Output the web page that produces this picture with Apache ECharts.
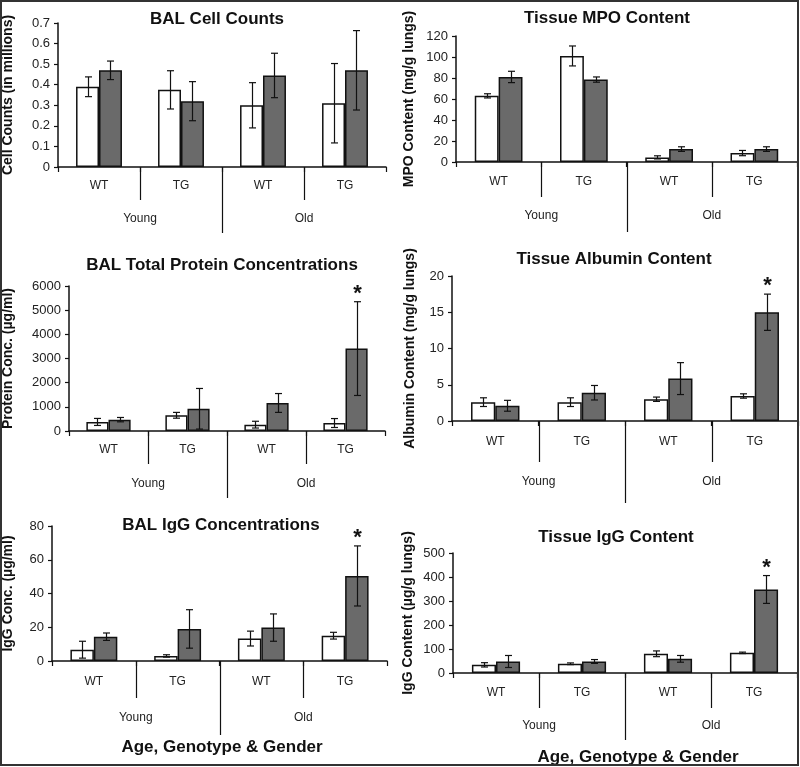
<!DOCTYPE html>
<html><head><meta charset="utf-8">
<script src="https://cdn.jsdelivr.net/npm/echarts@6/dist/echarts.min.js"></script>
<style>html,body{margin:0;padding:0;background:#fff}#c{width:800px;height:767px}</style>
</head><body><div id="c"></div>
<script>
// ---------- data ----------
const categories = ['WT', 'TG', 'WT', 'TG'];
const ageGroups = ['Young', 'Old'];
const xAxisTitle = 'Age, Genotype & Gender';

const cellTitle = 'BAL Cell Counts';
const cellYName = 'Cell Counts (in millions)';
const cellScale = [0, 0.7, 0.1];
const cellWhite = [0.39, 0.375, 0.30, 0.31];
const cellWhiteErr = [0.048, 0.093, 0.11, 0.193];
const cellGray = [0.47, 0.32, 0.445, 0.47];
const cellGrayErr = [0.045, 0.095, 0.108, 0.193];
const cellStars = ['', '', '', ''];

const mpoTitle = 'Tissue MPO Content';
const mpoYName = 'MPO Content (mg/g lungs)';
const mpoScale = [0, 120, 20];
const mpoWhite = [63, 101, 4.4, 8.5];
const mpoWhiteErr = [2, 9.5, 1.5, 2.5];
const mpoGray = [81, 78.5, 12.3, 12.3];
const mpoGrayErr = [5.4, 2.5, 2.2, 2.2];
const mpoStars = ['', '', '', ''];

const proteinTitle = 'BAL Total Protein Concentrations';
const proteinYName = 'Protein Conc. (µg/ml)';
const proteinScale = [0, 6000, 1000];
const proteinWhite = [375, 650, 263, 330];
const proteinWhiteErr = [145, 120, 140, 185];
const proteinGray = [470, 920, 1160, 3410];
const proteinGrayErr = [90, 840, 390, 1940];
const proteinStars = ['', '', '', '*'];

const albuminTitle = 'Tissue Albumin Content';
const albuminYName = 'Albumin Content (mg/g lungs)';
const albuminScale = [0, 20, 5];
const albuminWhite = [2.6, 2.6, 3.0, 3.45];
const albuminWhiteErr = [0.6, 0.6, 0.3, 0.3];
const albuminGray = [2.1, 3.9, 5.85, 15.0];
const albuminGrayErr = [0.75, 1.0, 2.2, 2.5];
const albuminStars = ['', '', '', '*'];

const balIgGTitle = 'BAL IgG Concentrations';
const balIgGYName = 'IgG Conc. (µg/ml)';
const balIgGScale = [0, 80, 20];
const balIgGWhite = [6.7, 3.0, 13.3, 15];
const balIgGWhiteErr = [5, 0.7, 4.4, 2];
const balIgGGray = [14.4, 19, 19.8, 50.4];
const balIgGGrayErr = [2.2, 11.4, 8.1, 17.8];
const balIgGStars = ['', '', '', '*'];

const tissueIgGTitle = 'Tissue IgG Content';
const tissueIgGYName = 'IgG Content (µg/g lungs)';
const tissueIgGScale = [0, 500, 100];
const tissueIgGWhite = [34, 38.5, 80, 84];
const tissueIgGWhiteErr = [9, 3.5, 12, 3];
const tissueIgGGray = [48, 48, 59, 348];
const tissueIgGGrayErr = [25, 8, 14, 58];
const tissueIgGStars = ['', '', '', '*'];

// ---------- layout / style ----------
const FONT = '"Liberation Sans", Arial, sans-serif';
const GAP = 0.44;
const panels = [
  {title: cellTitle, yName: cellYName, scale: cellScale, white: cellWhite, whiteErr: cellWhiteErr, gray: cellGray, grayErr: cellGrayErr, stars: cellStars,
   grid: {left: 58, top: 23, width: 328, height: 144}, tx: 217, ty: 10.5, nameGap: 43, tickLen: 33, groupLen: 66, lm: 13, gm: 46},
  {title: mpoTitle, yName: mpoYName, scale: mpoScale, white: mpoWhite, whiteErr: mpoWhiteErr, gray: mpoGray, grayErr: mpoGrayErr, stars: mpoStars,
   grid: {left: 456, top: 36, width: 341, height: 126}, tx: 607, ty: 10, nameGap: 40, tickLen: 35, groupLen: 70, lm: 14, gm: 48},
  {title: proteinTitle, yName: proteinYName, scale: proteinScale, white: proteinWhite, whiteErr: proteinWhiteErr, gray: proteinGray, grayErr: proteinGrayErr, stars: proteinStars,
   grid: {left: 67, top: 286, width: 318, height: 145}, tx: 222, ty: 257, nameGap: 54, tickLen: 33, groupLen: 67, lm: 13, gm: 47},
  {title: albuminTitle, yName: albuminYName, scale: albuminScale, white: albuminWhite, whiteErr: albuminWhiteErr, gray: albuminGray, grayErr: albuminGrayErr, stars: albuminStars,
   grid: {left: 452, top: 276, width: 346, height: 145}, tx: 614, ty: 250.5, nameGap: 35, tickLen: 41, groupLen: 82, lm: 15, gm: 55},
  {title: balIgGTitle, yName: balIgGYName, scale: balIgGScale, white: balIgGWhite, whiteErr: balIgGWhiteErr, gray: balIgGGray, grayErr: balIgGGrayErr, stars: balIgGStars,
   grid: {left: 52, top: 526, width: 335, height: 135}, tx: 221, ty: 516.5, nameGap: 37, tickLen: 37, groupLen: 74, lm: 15, gm: 51},
  {title: tissueIgGTitle, yName: tissueIgGYName, scale: tissueIgGScale, white: tissueIgGWhite, whiteErr: tissueIgGWhiteErr, gray: tissueIgGGray, grayErr: tissueIgGGrayErr, stars: tissueIgGStars,
   grid: {left: 453, top: 553, width: 344, height: 120}, tx: 616, ty: 528.5, nameGap: 38, tickLen: 35, groupLen: 67, lm: 14, gm: 47}
];
const xTitles = [{x: 222, y: 738.5}, {x: 638, y: 748.5}];

function errRender(sign, stars) {
  return function (params, api) {
    const i = api.value(0), m = api.value(1), e = api.value(2);
    const c = api.coord([i, m]);
    const band = api.size([1, 0])[0];
    const x = Math.round(c[0] + sign * band * (1 - GAP) / 4) + 0.5;
    const yt = api.coord([i, m + e])[1];
    const yb = api.coord([i, m - e])[1];
    const st = {stroke: '#111', lineWidth: 1.2};
    const ch = [
      {type: 'line', shape: {x1: x, y1: yt, x2: x, y2: yb}, style: st},
      {type: 'line', shape: {x1: x - 3.5, y1: yt, x2: x + 3.5, y2: yt}, style: st},
      {type: 'line', shape: {x1: x - 3.5, y1: yb, x2: x + 3.5, y2: yb}, style: st}
    ];
    const s = stars[params.dataIndex];
    if (s) {
      ch.push({type: 'text', style: {text: s, x: x, y: yt - 8, align: 'center', verticalAlign: 'middle',
        font: 'bold 22px ' + FONT, fill: '#111'}});
    }
    return {type: 'group', children: ch};
  };
}
function sepRender(p) {
  return function (params, api) {
    const i = api.value(0);
    const c = api.coord([i, 0]);
    const band = api.size([1, 0])[0];
    const x = Math.round(c[0] - band / 2) + 0.5;
    const len = i === 2 ? p.groupLen : p.tickLen;
    return {type: 'line', shape: {x1: x, y1: c[1], x2: x, y2: c[1] + len}, style: {stroke: '#111', lineWidth: 1.2}};
  };
}
function plainNumber(v) { return String(+(+v).toFixed(6)); }

const option = {
  animation: false,
  backgroundColor: '#fff',
  textStyle: {fontFamily: FONT},
  title: [],
  grid: [],
  xAxis: [],
  yAxis: [],
  series: [],
  graphic: [{type: 'rect', shape: {x: 1, y: 1, width: 797, height: 764}, style: {fill: 'none', stroke: '#333', lineWidth: 2}, z: 100}]
};

panels.forEach(function (p, k) {
  option.title.push({text: p.title, left: p.tx, top: p.ty, textAlign: 'center', padding: 0,
    textStyle: {fontFamily: FONT, fontWeight: 'bold', fontSize: 17, color: '#111'}});
  option.grid.push(Object.assign({containLabel: false}, p.grid));
  option.xAxis.push({type: 'category', gridIndex: k, data: categories, position: 'bottom',
    axisLine: {lineStyle: {color: '#111', width: 1.5}},
    axisTick: {show: true, alignWithLabel: false, length: 5, lineStyle: {color: '#111', width: 1.2}},
    axisLabel: {interval: 0, margin: p.lm, fontSize: 12, color: '#222', fontFamily: FONT},
    splitLine: {show: false}});
  option.xAxis.push({type: 'category', gridIndex: k, data: ageGroups, position: 'bottom',
    axisLine: {show: false}, axisTick: {show: false},
    axisLabel: {interval: 0, margin: p.gm, fontSize: 12, color: '#222', fontFamily: FONT},
    splitLine: {show: false}});
  option.yAxis.push({type: 'value', gridIndex: k, min: p.scale[0], max: p.scale[1], interval: p.scale[2],
    name: p.yName, nameLocation: 'middle', nameGap: p.nameGap, nameRotate: 90,
    nameTextStyle: {fontFamily: FONT, fontWeight: 'bold', fontSize: 14, color: '#111'},
    axisLine: {show: true, lineStyle: {color: '#111', width: 1.5}},
    axisTick: {show: true, length: 4, lineStyle: {color: '#111', width: 1.2}},
    axisLabel: {margin: 8, fontSize: 13, color: '#222', fontFamily: FONT, formatter: plainNumber},
    splitLine: {show: false}});
  const xi = 2 * k;
  option.series.push({type: 'bar', name: 'White', xAxisIndex: xi, yAxisIndex: k, data: p.white,
    barGap: '0%', barCategoryGap: (GAP * 100) + '%',
    itemStyle: {color: '#ffffff', borderColor: '#111', borderWidth: 1.5}, z: 2, silent: true});
  option.series.push({type: 'bar', name: 'Gray', xAxisIndex: xi, yAxisIndex: k, data: p.gray,
    barGap: '0%', barCategoryGap: (GAP * 100) + '%',
    itemStyle: {color: '#6a6a6a', borderColor: '#111', borderWidth: 1.5}, z: 2, silent: true});
  option.series.push({type: 'custom', xAxisIndex: xi, yAxisIndex: k, clip: false, z: 4, silent: true,
    encode: {x: 0, y: 1},
    data: p.white.map(function (v, i) { return [i, v, p.whiteErr[i]]; }),
    renderItem: errRender(-1, ['', '', '', ''])});
  option.series.push({type: 'custom', xAxisIndex: xi, yAxisIndex: k, clip: false, z: 4, silent: true,
    encode: {x: 0, y: 1},
    data: p.gray.map(function (v, i) { return [i, v, p.grayErr[i]]; }),
    renderItem: errRender(1, p.stars)});
  option.series.push({type: 'custom', xAxisIndex: xi, yAxisIndex: k, clip: false, z: 4, silent: true,
    encode: {x: 0, y: 1},
    data: [[1, 0], [2, 0], [3, 0]],
    renderItem: sepRender(p)});
});
xTitles.forEach(function (t) {
  option.title.push({text: xAxisTitle, left: t.x, top: t.y, textAlign: 'center', padding: 0,
    textStyle: {fontFamily: FONT, fontWeight: 'bold', fontSize: 17, color: '#111'}});
});

const chart = echarts.init(document.getElementById('c'), null, {renderer: 'canvas'});
chart.setOption(option);
</script>
</body></html>
